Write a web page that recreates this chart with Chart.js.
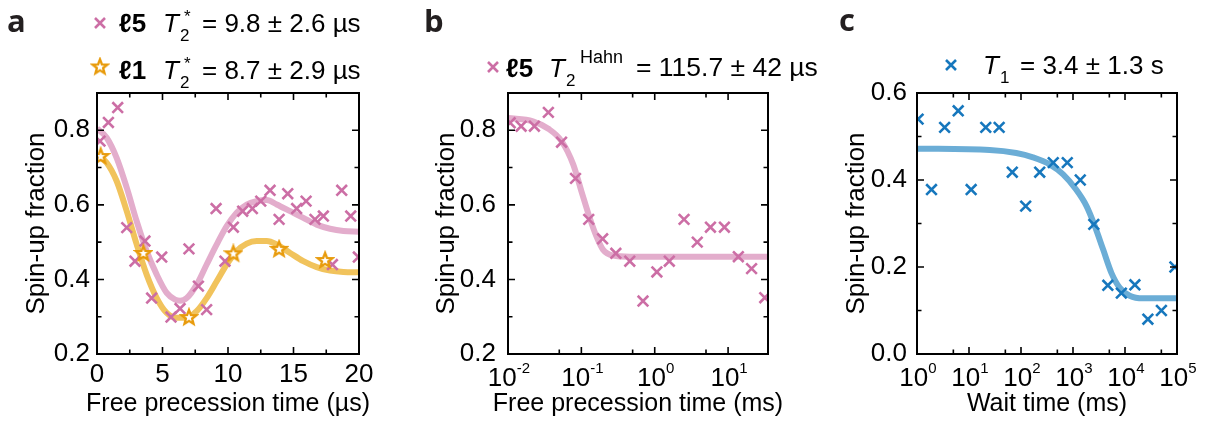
<!DOCTYPE html>
<html><head><meta charset="utf-8">
<script src="https://cdn.jsdelivr.net/npm/chart.js@4/dist/chart.umd.min.js"></script>
<style>
html,body{margin:0;padding:0;background:#fff;}
body{width:1209px;height:433px;overflow:hidden;position:relative;font-family:"Liberation Sans",Arial,sans-serif;color:#000;}
canvas{position:absolute;top:0;}
span.t{position:absolute;white-space:nowrap;}
</style></head>
<body>
<canvas id="ca" width="400" height="433" style="left:0px"></canvas>
<canvas id="cb" width="400" height="433" style="left:410px"></canvas>
<canvas id="cc" width="389" height="433" style="left:820px"></canvas>
<script>
// ---------------- DATA ----------------
// Panel a: Ramsey (free precession time, µs)
const aPinkX = [0.23,0.87,1.58,2.27,2.90,3.66,4.17,4.94,5.65,6.34,7.02,7.74,8.37,9.09,9.77,10.41,11.12,11.86,12.50,13.21,13.90,14.56,15.24,15.96,16.64,17.28,17.97,18.68,19.37,19.95];
const aPinkY = [0.771,0.821,0.861,0.539,0.449,0.503,0.350,0.460,0.299,0.322,0.482,0.382,0.319,0.590,0.449,0.540,0.583,0.590,0.610,0.639,0.561,0.630,0.590,0.610,0.561,0.570,0.440,0.639,0.570,0.460];
const aOrangeX = [0.28,3.54,7.02,10.41,13.90,17.41];
const aOrangeY = [0.731,0.471,0.299,0.470,0.482,0.452];
const aPinkFitX = [0.0,0.74,1.50,2.27,3.03,3.79,4.56,5.32,5.96,6.34,6.85,7.61,8.37,9.14,9.90,10.66,11.43,12.19,12.95,13.72,14.74,15.75,16.77,17.79,18.81,20.0];
const aPinkFitY = [0.805,0.780,0.726,0.646,0.556,0.476,0.413,0.364,0.346,0.343,0.350,0.386,0.440,0.494,0.543,0.579,0.601,0.610,0.613,0.601,0.583,0.565,0.547,0.536,0.530,0.528];
const aOrangeFitX = [0.0,0.74,1.50,2.27,3.03,3.79,4.56,5.32,6.09,6.85,7.61,8.37,9.14,9.90,10.66,11.43,12.19,12.95,13.72,14.74,15.75,16.77,17.79,18.81,20.0];
const aOrangeFitY = [0.735,0.713,0.664,0.583,0.494,0.413,0.350,0.310,0.297,0.297,0.315,0.350,0.395,0.440,0.476,0.496,0.503,0.503,0.494,0.471,0.449,0.433,0.424,0.420,0.419];
// Panel b: Hahn echo (free precession time, ms)
const bX = [0.0107,0.0151,0.0229,0.0355,0.0537,0.0832,0.126,0.195,0.295,0.457,0.692,1.07,1.58,2.51,3.80,5.75,8.91,13.8,20.9,31.6];
const bY = [0.820,0.811,0.811,0.848,0.768,0.671,0.561,0.509,0.470,0.449,0.342,0.420,0.449,0.561,0.500,0.540,0.540,0.461,0.429,0.351];
const bFitX = [0.01,0.0219,0.0355,0.0537,0.0776,0.1,0.130,0.160,0.197,0.270,0.457,35];
const bFitY = [0.833,0.824,0.804,0.771,0.708,0.637,0.565,0.516,0.480,0.464,0.461,0.461];
// Panel c: T1 (wait time, ms)
const cX = [1.05,1.9,3.4,6.2,11,21,38,68,123,229,417,776,1380,2512,4677,8511,15488,27542,50119,91201];
const cY = [0.540,0.378,0.521,0.559,0.378,0.521,0.521,0.418,0.340,0.418,0.440,0.440,0.400,0.298,0.158,0.140,0.159,0.080,0.100,0.200];
const cFitX = [1,25,81,170,355,646,1148,1820,2630,3802,5495,7943,12303,22387,100000];
const cFitY = [0.472,0.469,0.462,0.452,0.436,0.413,0.378,0.340,0.294,0.240,0.186,0.152,0.134,0.128,0.128];
// Tick positions / labels
const aXMajor = [0,5,10,15,20], aXMinor = [2.5,7.5,12.5,17.5];
const abYMajor = [0.2,0.4,0.6,0.8], abYMinor = [0.3,0.5,0.7];
const bXMajor = [0.01,0.1,1,10], bXMinor = [0.05,0.5,5];
const bTickExp = ['-2','-1','0','1'];
const cXMajor = [1,10,100,1000,10000,100000], cXMinor = [5,50,500,5000,50000];
const cTickExp = ['0','1','2','3','4','5'];
const cYMajor = [0,0.2,0.4,0.6], cYMinor = [0.1,0.3,0.5];

// ---------------- STYLE ----------------
const FONT = '"Liberation Sans", Arial, sans-serif';
const PINK = '#cc6ea5', PINK_L = '#e3adcc';
const ORANGE = '#e89b0c', ORANGE_L = '#f1c35c';
const BLUE = '#1677bd', BLUE_L = '#6badd6';
const TICK_PX = 26, YTITLE_PX = 26, XTITLE_PX = 25;
Chart.defaults.font.family = FONT;
Chart.defaults.color = '#000';

function makeStar(color){
  const c = document.createElement('canvas'); c.width = 20; c.height = 20;
  const g = c.getContext('2d');
  g.beginPath();
  for (let i = 0; i < 10; i++) {
    const r = (i % 2) ? 3.3 : 7.6;
    const a = -Math.PI/2 + i*Math.PI/5;
    g.lineTo(10 + r*Math.cos(a), 10.5 + r*Math.sin(a));
  }
  g.closePath();
  g.fillStyle = '#fff'; g.fill();
  g.lineWidth = 2.4; g.lineJoin = 'miter'; g.strokeStyle = color; g.stroke();
  return c;
}
const STAR = makeStar(ORANGE);

const pts = (xs, ys) => xs.map((x, i) => ({x, y: ys[i]}));

const frameTicks = {
  id: 'frameTicks',
  afterDatasetsDraw(chart, args, o) {
    const {ctx, chartArea: ca} = chart;
    const xs = chart.scales.x, ys = chart.scales.y;
    ctx.save();
    ctx.strokeStyle = '#000';
    ctx.lineWidth = 1.6;
    ctx.beginPath();
    const tick = (vals, len, isX) => {
      for (const v of vals) {
        if (isX) {
          const p = xs.getPixelForValue(v);
          ctx.moveTo(p, ca.bottom); ctx.lineTo(p, ca.bottom - len);
          ctx.moveTo(p, ca.top); ctx.lineTo(p, ca.top + len);
        } else {
          const p = ys.getPixelForValue(v);
          ctx.moveTo(ca.left, p); ctx.lineTo(ca.left + len, p);
          ctx.moveTo(ca.right, p); ctx.lineTo(ca.right - len, p);
        }
      }
    };
    tick(o.xMajor, 7, true); tick(o.xMinor, 4.5, true);
    tick(o.yMajor, 7, false); tick(o.yMinor, 4.5, false);
    ctx.stroke();
    ctx.lineWidth = 2;
    ctx.strokeRect(ca.left, ca.top, ca.right - ca.left, ca.bottom - ca.top);
    ctx.fillStyle = '#000';
    ctx.textBaseline = 'alphabetic';
    // power-of-ten tick labels
    if (o.logExp) {
      o.xMajor.forEach((v, i) => {
        const p = xs.getPixelForValue(v);
        ctx.font = TICK_PX + 'px ' + FONT;
        const w1 = ctx.measureText('10').width;
        ctx.font = '15px ' + FONT;
        const w2 = ctx.measureText(o.logExp[i]).width;
        const x0 = p - (w1 + w2) / 2 + 1;
        ctx.font = TICK_PX + 'px ' + FONT;
        ctx.textAlign = 'left';
        ctx.fillText('10', x0, 385.5);
        ctx.font = '15px ' + FONT;
        ctx.fillText(o.logExp[i], x0 + w1, 373);
      });
    }
    // x-axis title (drawn without width compression)
    ctx.font = XTITLE_PX + 'px ' + FONT;
    ctx.textAlign = 'center';
    ctx.fillText(o.xTitle, (ca.left + ca.right) / 2, 411);
    ctx.textAlign = 'left';
    // legend symbols
    (o.marks || []).forEach(m => {
      if (m.kind === 'x') {
        ctx.strokeStyle = m.color; ctx.lineWidth = 2.6; ctx.lineCap = 'butt';
        ctx.beginPath();
        ctx.moveTo(m.x - 5, m.y - 5); ctx.lineTo(m.x + 5, m.y + 5);
        ctx.moveTo(m.x + 5, m.y - 5); ctx.lineTo(m.x - 5, m.y + 5);
        ctx.stroke();
      } else {
        ctx.drawImage(STAR, m.x - 10, m.y - 10.5);
      }
    });
    ctx.restore();
  }
};

function axisX(type, min, max, showTicks, step) {
  return {
    type, min, max,
    grid: {display: false, drawTicks: false}, border: {display: false},
    ticks: {display: showTicks, stepSize: step, padding: 5, maxRotation: 0, autoSkip: false,
            font: {size: TICK_PX}, color: '#000'},
    title: {display: false},
    afterFit(s) { s.height = 79; }
  };
}
function axisY(min, max, pad, w) {
  return {
    type: 'linear', min, max,
    grid: {display: false, drawTicks: false}, border: {display: false},
    ticks: {stepSize: 0.2, includeBounds: false, padding: pad, font: {size: TICK_PX}, color: '#000',
            callback: v => (Math.round(v*10)/10).toFixed(1)},
    title: {display: true, text: 'Spin-up fraction', font: {size: YTITLE_PX}, color: '#000', padding: {top: 21, bottom: 0}},
    afterFit(s) { s.width = w; }
  };
}
function baseOpts(padRight, scales, ft) {
  return {
    responsive: false, animation: false, devicePixelRatio: 1,
    layout: {padding: {top: 93, right: padRight, left: 0, bottom: 0}},
    plugins: {legend: {display: false}, tooltip: {enabled: false}, frameTicks: ft},
    scales
  };
}
const fitLine = (data, color, order) => ({type: 'line', data, borderColor: color, borderWidth: 6, pointRadius: 0,
  showLine: true, fill: false, cubicInterpolationMode: 'monotone', order, clip: 0});

// Panel a
new Chart(document.getElementById('ca'), {
  type: 'scatter',
  data: {datasets: [
    fitLine(pts(aPinkFitX, aPinkFitY), PINK_L, 4),
    fitLine(pts(aOrangeFitX, aOrangeFitY), ORANGE_L, 3),
    {data: pts(aPinkX, aPinkY), pointStyle: 'crossRot', pointRadius: 7.5, borderColor: PINK, borderWidth: 2.6, order: 2, clip: 0},
    {data: pts(aOrangeX, aOrangeY), pointStyle: STAR, order: 1, clip: 0}
  ]},
  options: baseOpts(41, {
    x: axisX('linear', 0, 20, true, 5),
    y: axisY(0.2, 0.9, 7, 97)
  }, {xMajor: aXMajor, xMinor: aXMinor, yMajor: abYMajor, yMinor: abYMinor, xTitle: 'Free precession time (µs)',
      marks: [{kind: 'x', x: 100, y: 23, color: PINK}, {kind: 'star', x: 100, y: 67}]}),
  plugins: [frameTicks]
});

// Panel b
new Chart(document.getElementById('cb'), {
  type: 'scatter',
  data: {datasets: [
    fitLine(pts(bFitX, bFitY), PINK_L, 2),
    {data: pts(bX, bY), pointStyle: 'crossRot', pointRadius: 7.5, borderColor: PINK, borderWidth: 2.6, order: 1, clip: 0}
  ]},
  options: baseOpts(42, {
    x: axisX('logarithmic', 0.01, 35, false),
    y: axisY(0.2, 0.9, 12, 98)
  }, {xMajor: bXMajor, xMinor: bXMinor, yMajor: abYMajor, yMinor: abYMinor, logExp: bTickExp, xTitle: 'Free precession time (ms)',
      marks: [{kind: 'x', x: 83, y: 67, color: PINK}]}),
  plugins: [frameTicks]
});

// Panel c
new Chart(document.getElementById('cc'), {
  type: 'scatter',
  data: {datasets: [
    fitLine(pts(cFitX, cFitY), BLUE_L, 2),
    {data: pts(cX, cY), pointStyle: 'crossRot', pointRadius: 7.5, borderColor: BLUE, borderWidth: 2.6, order: 1, clip: 0}
  ]},
  options: baseOpts(32, {
    x: axisX('logarithmic', 1, 100000, false),
    y: axisY(0, 0.6, 10, 97)
  }, {xMajor: cXMajor, xMinor: cXMinor, yMajor: cYMajor, yMinor: cYMinor, logExp: cTickExp, xTitle: 'Wait time (ms)',
      marks: [{kind: 'x', x: 131, y: 65, color: BLUE}]}),
  plugins: [frameTicks]
});

// ---------------- Text (legends & panel letters) ----------------
function put(text, x, base, size, extra, k) {
  const s = document.createElement('span');
  s.className = 't';
  s.textContent = text;
  k = k || 0.8465;
  s.style.cssText += `left:${x}px;top:${(base - k*size).toFixed(1)}px;font-size:${size}px;line-height:${size}px;` + (extra || '');
  document.body.appendChild(s);
}
const LET = 'font-family:"Open Sans",sans-serif;font-weight:700;color:#231f20;';
put('a', 7, 32, 31, LET, 0.888);
put('b', 424, 32, 31, LET, 0.888);
put('c', 839, 31, 31, LET, 0.888);
const B = 'font-weight:700;', I = 'font-style:italic;';
// a row 1
put('ℓ5', 119, 31.5, 26, B);
put('T', 163, 31.5, 26, I);
put('2', 180, 41.5, 17);
put('*', 184, 22, 17);
put('= 9.8 ± 2.6 µs', 202, 31.5, 26);
// a row 2
put('ℓ1', 119, 78.5, 26, B);
put('T', 163, 78.5, 26, I);
put('2', 180, 88.5, 17);
put('*', 184, 69, 17);
put('= 8.7 ± 2.9 µs', 202, 78.5, 26);
// b
put('ℓ5', 506, 76.5, 26, B);
put('T', 549, 76.5, 26, I);
put('2', 566, 86, 17);
put('Hahn', 580, 63, 18);
put('= 115.7 ± 42 µs', 636, 76.5, 26.5);
// c
put('T', 983, 74, 26, I);
put('1', 1000, 83, 17);
put('= 3.4 ± 1.3 s', 1020, 74, 26);
</script>
</body></html>
